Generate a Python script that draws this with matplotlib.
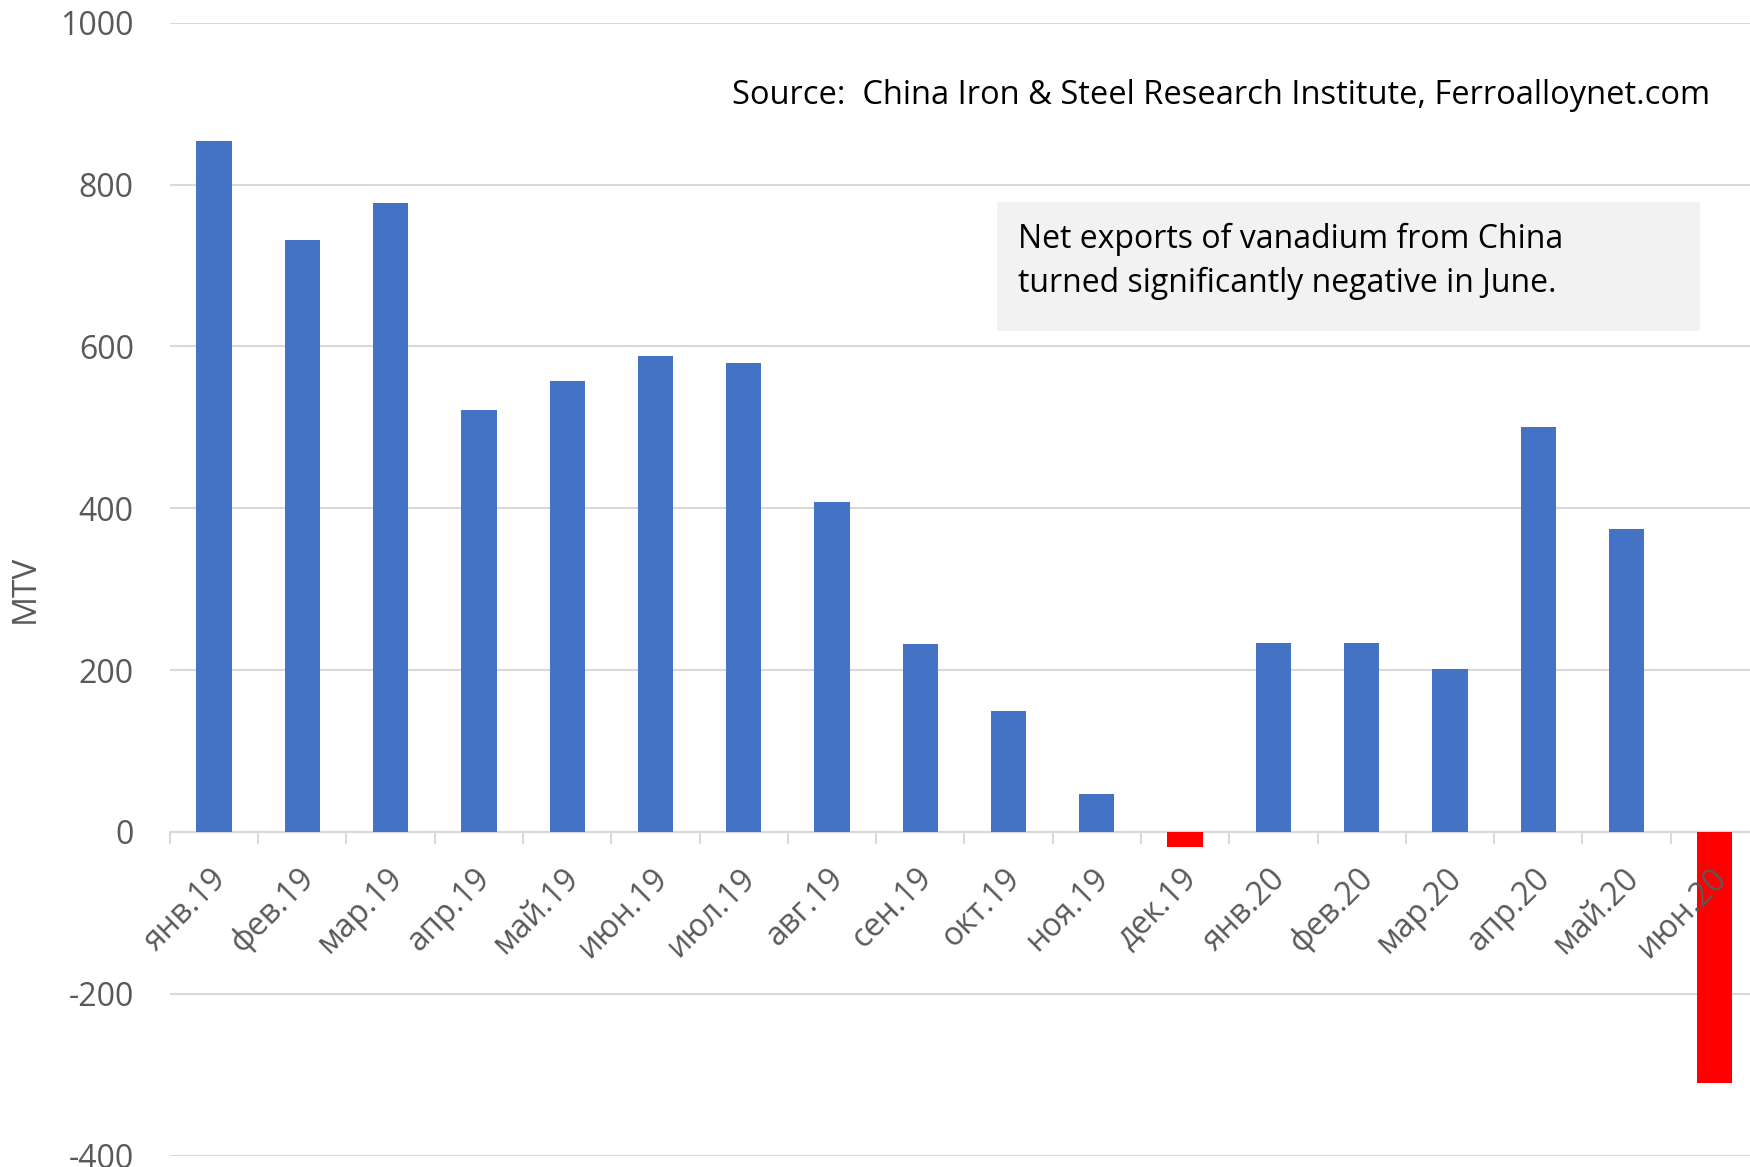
import matplotlib
matplotlib.use('Agg')
import matplotlib.pyplot as plt
import numpy as np

months = ['янв.19', 'фев.19', 'мар.19', 'апр.19', 'май.19', 'июн.19',
          'июл.19', 'авг.19', 'сен.19', 'окт.19', 'ноя.19', 'дек.19',
          'янв.20', 'фев.20', 'мар.20', 'апр.20', 'май.20', 'июн.20']
net_exports = [854, 731, 777, 521, 557, 588, 579, 408, 232, 149, 47, -19,
               233, 233, 201, 501, 374, -310]
y_ticks = [-400, -200, 0, 200, 400, 600, 800, 1000]

grey = '#595959'
plt.rcParams['font.family'] = ['Open Sans', 'DejaVu Sans']

fig = plt.figure(figsize=(17.5, 11.67), dpi=100)
ax = fig.add_axes([0.0971, 0.0097, 0.908, 0.9708])

x = np.arange(len(months))
colors = ['#ff0000' if v < 0 else '#4472c4' for v in net_exports]
ax.bar(x, net_exports, width=0.4, color=colors, zorder=3)

ax.set_xlim(-0.5, len(months) - 0.5)
ax.set_ylim(-400, 1000)
ax.set_yticks(y_ticks)
ax.set_yticklabels([str(t) for t in y_ticks])
ax.tick_params(axis='y', length=0, pad=26, labelsize=23, labelcolor=grey)
ax.yaxis.grid(True, color='#d9d9d9', linewidth=1.5, zorder=0)

for s in ['top', 'right', 'left', 'bottom']:
    ax.spines[s].set_visible(False)

# category axis drawn at zero with ticks between the months
ax.axhline(0, color='#d9d9d9', linewidth=1.5, zorder=2)
ax.set_xticks([])
for b in np.arange(-0.5, len(months), 1.0):
    ax.plot([b, b], [0, -14], color='#d9d9d9', linewidth=1.5, zorder=2,
            clip_on=False)
for i, m in enumerate(months):
    ax.annotate(m, xy=(i, 0), xytext=(5, -30), textcoords='offset points',
                rotation=45, rotation_mode='anchor', ha='right', va='center',
                fontsize=23, color=grey)

ax.set_ylabel('MTV', fontsize=24, color=grey)
ax.yaxis.set_label_coords(-0.0806, 0.5)

fig.text(0.977, 0.9178, 'Source:  China Iron & Steel Research Institute, Ferroalloynet.com',
         ha='right', va='center', fontsize=23.5, color='black')

box_ax = fig.add_axes([997 / 1750, 1 - 331 / 1167, 703 / 1750, 129 / 1167])
box_ax.set_facecolor('#f2f2f2')
box_ax.set_xticks([])
box_ax.set_yticks([])
for s in box_ax.spines.values():
    s.set_visible(False)
box_ax.text(21 / 703, 0.54, 'Net exports of vanadium from China\nturned significantly negative in June.',
            transform=box_ax.transAxes, ha='left', va='center', fontsize=23,
            linespacing=1.4)

fig.savefig('out.png', dpi=100)
